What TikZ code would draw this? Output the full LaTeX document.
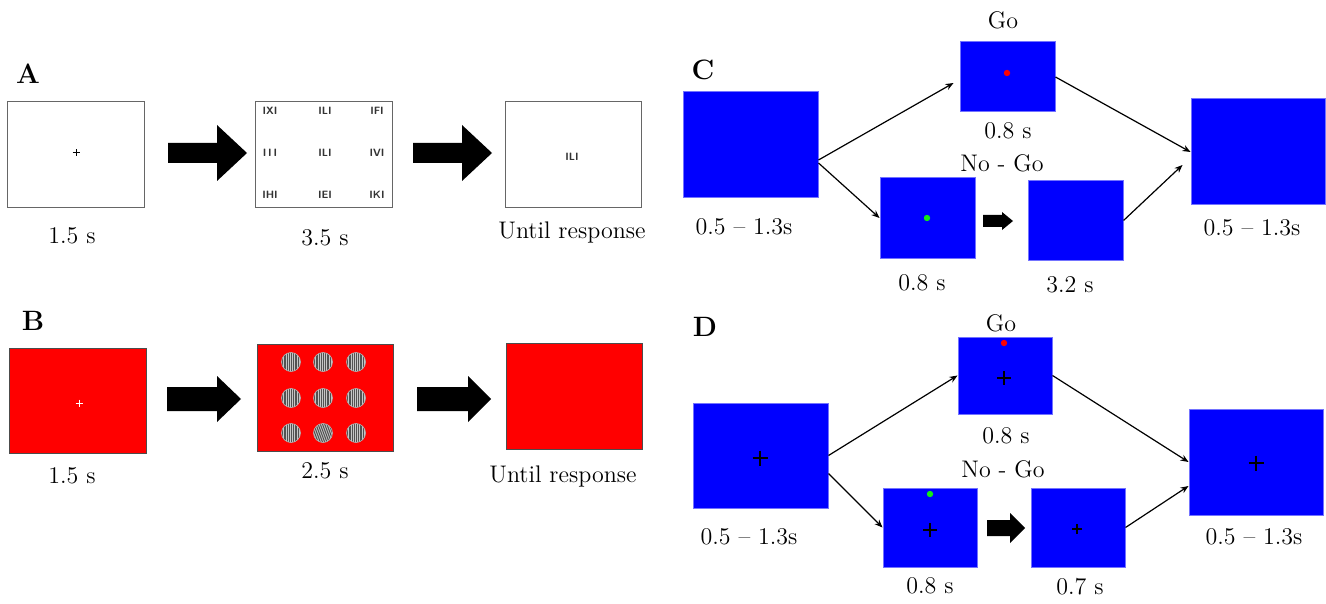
\documentclass[tikz,border=0pt]{standalone}
\usetikzlibrary{arrows.meta}
\definecolor{scrblue}{RGB}{0,0,255}
\definecolor{scrred}{RGB}{255,0,0}
\definecolor{scrgreen}{RGB}{20,235,20}
\newcommand\fatarrow[6]{\fill[black] (#1,{#4-#5}) -- (#2,{#4-#5}) -- (#2,{#4-#6}) -- (#3,#4) -- (#2,{#4+#6}) -- (#2,{#4+#5}) -- (#1,{#4+#5}) -- cycle;}
\newcommand\crossmark[5]{\draw[#5, line width=#4] ({#1-#3},#2) -- ({#1+#3},#2) (#1,{#2-#3}) -- (#1,{#2+#3});}
\newcommand\gratingdisk[3]{%
  \begin{scope}
    \clip (#1,#2) circle[radius=4.75pt];
    \fill[gray!45] (#1,#2) circle[radius=5pt];
    \foreach \k in {-6,...,6} {
      \fill[black!68] ({#1+\k*2.2-#3},{#2-12}) -- ({#1+\k*2.2-#3+1.1},{#2-12}) -- ({#1+\k*2.2+#3+1.1},{#2+12}) -- ({#1+\k*2.2+#3},{#2+12}) -- cycle;
    }
  \end{scope}
  \draw[gray!60, line width=0.3pt] (#1,#2) circle[radius=4.75pt];}
\begin{document}
\begin{tikzpicture}[x=0.5pt,y=-0.5pt,
  lbl/.style={font=\fontsize{12}{14}\selectfont, inner sep=0pt},
  panel/.style={font=\fontsize{14}{16}\selectfont\bfseries, inner sep=0pt},
  whitescr/.style={draw=black!60, line width=0.45pt, fill=white, inner sep=0pt},
  redscr/.style={draw=black!70, line width=0.5pt, fill=scrred, inner sep=0pt},
  bluescr/.style={draw=blue!55!white, line width=0.5pt, fill=scrblue, inner sep=0pt},
  sz/.style 2 args={minimum width=#1*0.5pt, minimum height=#2*0.5pt},
  conn/.style={-{Stealth[length=4pt,width=3.2pt]}, line width=0.6pt},
  tiny/.style={font=\fontsize{5.3}{6}\selectfont\sffamily\bfseries, inner sep=0pt, text=black!80}]

\useasboundingbox (0,0) rectangle (1326,604);
\fill[white] (0,0) rectangle (1326,604);

% ---------------- Panel A
\node[panel] (labA) at (28,74) {A};
\node[whitescr, sz={137}{106}] (a1) at (75.5,154) {};
\crossmark{76}{153}{3.5}{0.5pt}{black}
\node[lbl] (ta1) at (72,236) {1.5 s};
\fatarrow{168}{217}{247}{153}{10}{28}
\node[whitescr, sz={137}{106}] (a2) at (323.5,154) {};
\node[tiny] (g11) at (270,111) {IXI};
\node[tiny] (g12) at (325,111) {ILI};
\node[tiny] (g13) at (377,111) {IFI};
\node[tiny] (g21) at (270,153) {I\,I\,I};
\node[tiny] (g22) at (325,153) {ILI};
\node[tiny] (g23) at (377,153) {IVI};
\node[tiny] (g31) at (270,195) {IHI};
\node[tiny] (g32) at (325,195) {IEI};
\node[tiny] (g33) at (377,195) {IKI};
\node[lbl] (ta2) at (325,238) {3.5 s};
\fatarrow{413}{462}{492}{153}{10}{28}
\node[whitescr, sz={136}{106}] (a3) at (573,154) {};
\node[tiny] (g0) at (572,157) {ILI};
\node[lbl] (ta3) at (572,233) {Until response};

% ---------------- Panel B
\node[panel] (labB) at (33,321) {B};
\node[redscr, sz={137}{105}] (b1) at (77.5,400.5) {};
\crossmark{79}{403}{3.5}{0.5pt}{white}
\node[lbl] (tb1) at (72,476) {1.5 s};
\fatarrow{167}{217}{241}{399}{12}{23}
\node[redscr, sz={136}{107}] (b2) at (325,397.5) {};
\gratingdisk{291}{362}{0}
\gratingdisk{323}{362}{0}
\gratingdisk{356}{362}{0}
\gratingdisk{291}{398}{0}
\gratingdisk{323}{398}{0}
\gratingdisk{356}{398}{0}
\gratingdisk{291}{433}{0}
\gratingdisk{323}{433}{4.4}
\gratingdisk{356}{433}{0}
\node[lbl] (tb2) at (325,471) {2.5 s};
\fatarrow{417}{468}{491}{399}{12}{23}
\node[redscr, sz={136}{106}] (b3) at (574,396) {};
\node[lbl] (tb3) at (563,476) {Until response};

% ---------------- Panel C
\node[panel] (labC) at (703,70) {C};
\node[bluescr, sz={135}{106}] (c1) at (750.5,145) {};
\node[lbl] (tc1) at (744,227) {0.5 -- 1.3s};
\node[lbl] (goC) at (1003,20) {Go};
\node[bluescr, sz={95}{70}] (cgo) at (1007.5,77) {};
\fill[scrred] (1007,73) circle[radius=1.6pt];
\node[lbl] (tcgo) at (1008,131) {0.8 s};
\node[lbl] (ngC) at (1002,163) {No - Go};
\node[bluescr, sz={95}{80}] (cng1) at (927.5,218) {};
\fill[scrgreen] (927,218) circle[radius=1.6pt];
\node[lbl] (tcng1) at (922,283) {0.8 s};
\fatarrow{983}{1002}{1013}{221}{6}{9}
\node[bluescr, sz={95}{79}] (cng2) at (1075.5,220.5) {};
\node[lbl] (tcng2) at (1070,285) {3.2 s};
\node[bluescr, sz={134}{106}] (cend) at (1258,152) {};
\node[lbl] (tcend) at (1252,228) {0.5 -- 1.3s};
\draw[conn] ([yshift=-7.5pt]c1.east) -- ([xshift=-3pt,yshift=-3pt]cgo.west);
\draw[conn] ([yshift=-9pt]c1.east) -- (cng1.west);
\draw[conn] (cgo.east) -- (cend.west);
\draw[conn] (cng2.east) -- ([xshift=-4pt,yshift=-6.5pt]cend.west);

% ---------------- Panel D
\node[panel] (labD) at (705,327) {D};
\node[bluescr, sz={135}{105}] (d1) at (760.5,455.5) {};
\crossmark{760}{458}{7.5}{1.1pt}{black}
\node[lbl] (td1) at (749,537) {0.5 -- 1.3s};
\node[lbl] (goD) at (1001,323) {Go};
\node[bluescr, sz={94}{77}] (dgo) at (1005,375.5) {};
\fill[scrred] (1004,343) circle[radius=1.6pt];
\crossmark{1004}{378}{7}{1pt}{black}
\node[lbl] (tdgo) at (1006,436) {0.8 s};
\node[lbl] (ngD) at (1003,469) {No - Go};
\node[bluescr, sz={94}{79}] (dng1) at (930,527.5) {};
\fill[scrgreen] (930,494) circle[radius=1.6pt];
\crossmark{930}{530}{7}{1pt}{black}
\node[lbl] (tdng1) at (930,586) {0.8 s};
\fatarrow{987}{1010}{1025}{528}{8}{15}
\node[bluescr, sz={94}{79}] (dng2) at (1078,527.5) {};
\crossmark{1077}{529}{5}{0.7pt}{black}
\node[lbl] (tdng2) at (1080,587) {0.7 s};
\node[bluescr, sz={134}{106}] (dend) at (1256,462) {};
\crossmark{1256}{463}{7.5}{1.1pt}{black}
\node[lbl] (tdend) at (1254,537) {0.5 -- 1.3s};
\draw[conn] (d1.east) -- (dgo.west);
\draw[conn] ([yshift=-9pt]d1.east) -- (dng1.west);
\draw[conn] (dgo.east) -- (dend.west);
\draw[conn] (dng2.east) -- ([yshift=-12pt]dend.west);
\end{tikzpicture}
\end{document}
